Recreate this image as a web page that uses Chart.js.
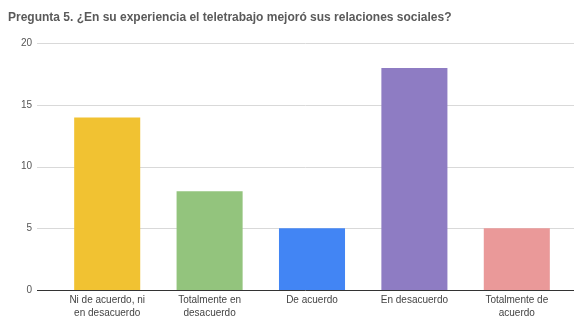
<!DOCTYPE html>
<html>
<head>
<meta charset="utf-8">
<script src="https://cdn.jsdelivr.net/npm/chart.js@4"></script>
<style>
  html, body { margin: 0; padding: 0; background: #ffffff; }
  #wrap { width: 574px; height: 320px; }
</style>
</head>
<body>
<div id="wrap"><canvas id="chart" width="574" height="320"></canvas></div>
<script>
// Respuestas a la pregunta 5
const categories = [
  ["Ni de acuerdo, ni", "en desacuerdo"],
  ["Totalmente en", "desacuerdo"],
  "De acuerdo",
  "En desacuerdo",
  ["Totalmente de", "acuerdo"]
];
const counts = [14, 8, 5, 18, 5];
const barColors = ["#f1c232", "#93c47d", "#4285f4", "#8e7cc3", "#ea9999"];
const yTicks = [0, 5, 10, 15, 20];
const titleText = "Pregunta 5. ¿En su experiencia el teletrabajo mejoró sus relaciones sociales?";

// Horizontal gridlines that run from the value labels to the right edge of the canvas
const wideGrid = {
  id: "wideGrid",
  beforeDatasetsDraw(chart) {
    const { ctx } = chart;
    const y = chart.scales.y;
    ctx.save();
    yTicks.forEach(v => {
      const py = Math.round(y.getPixelForValue(v)) + 0.5;
      ctx.beginPath();
      ctx.strokeStyle = v === 0 ? "#333333" : "#d9d9d9";
      ctx.lineWidth = 1;
      ctx.moveTo(37, py);
      ctx.lineTo(chart.width, py);
      ctx.stroke();
    });
    ctx.restore();
  }
};

new Chart(document.getElementById("chart"), {
  type: "bar",
  data: {
    labels: categories,
    datasets: [{
      data: counts,
      backgroundColor: barColors,
      borderWidth: 0,
      categoryPercentage: 1,
      barPercentage: 0.645
    }]
  },
  options: {
    responsive: false,
    animation: false,
    devicePixelRatio: 1,
    layout: { padding: { left: 8, right: 6, top: 0, bottom: 0 } },
    plugins: {
      legend: { display: false },
      tooltip: { enabled: false },
      title: {
        display: true,
        text: titleText,
        align: "start",
        color: "#5a5a5a",
        font: { family: "Liberation Sans, Arial, sans-serif", size: 12, weight: "bold" },
        padding: { top: 10, bottom: 19 }
      }
    },
    scales: {
      x: {
        afterFit(scale) { scale.height = 26; },
        grid: { display: false, drawTicks: false },
        border: { display: false },
        ticks: {
          color: "#444444",
          autoSkip: false,
          maxRotation: 0,
          padding: 4,
          font: { family: "Liberation Sans, Arial, sans-serif", size: 10, lineHeight: 1.25 }
        }
      },
      y: {
        min: 0,
        max: 20,
        afterBuildTicks(scale) { scale.ticks = yTicks.map(v => ({ value: v })); },
        afterFit(scale) { scale.width = 48; },
        grid: { display: false, drawTicks: false },
        border: { display: false },
        ticks: {
          color: "#555555",
          padding: 24,
          font: { family: "Liberation Sans, Arial, sans-serif", size: 10 }
        }
      }
    }
  },
  plugins: [wideGrid]
});
</script>
</body>
</html>
